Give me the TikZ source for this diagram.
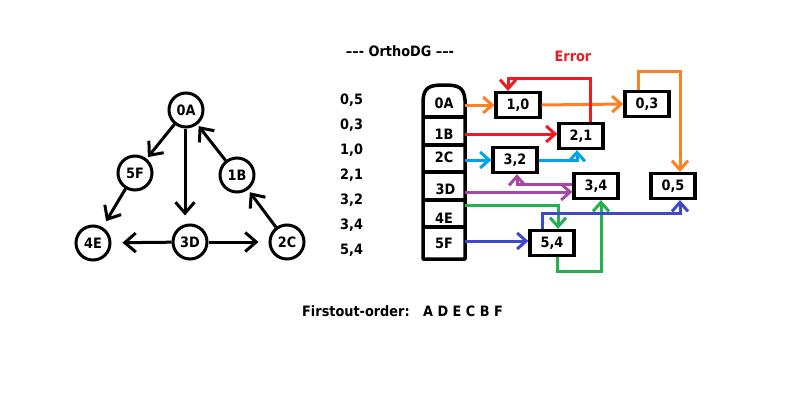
\documentclass[tikz,border=0pt]{standalone}
\usepackage{fontspec}
\setmainfont{DejaVu Sans}[FakeStretch=0.9]
\usetikzlibrary{arrows.meta}
\definecolor{corange}{HTML}{FF7F27}
\definecolor{cred}{HTML}{ED1C24}
\definecolor{clblue}{HTML}{00A2E8}
\definecolor{cpurple}{HTML}{A349A4}
\definecolor{cgreen}{HTML}{22B14C}
\definecolor{cdblue}{HTML}{3F48CC}
\begin{document}
\begin{tikzpicture}[x=1pt,y=-1pt,
  every node/.style={font=\fontsize{14.3}{16}\selectfont\bfseries},
  gnode/.style={circle,draw,line width=3pt,minimum size=34pt,inner sep=0pt},
  garrow/.style={line width=3pt,-{Straight Barb[length=11pt,width=19pt,line width=3pt]}},
  rowlbl/.style={minimum width=42pt,inner sep=0pt},
  pbox/.style={draw,line width=3.2pt,minimum width=44pt,minimum height=25pt,inner sep=0pt},
  carrow/.style={line width=3pt,-{Straight Barb[length=9pt,width=16pt,line width=3pt]}},
  listlbl/.style={anchor=west,inner sep=0pt}
]
\useasboundingbox (0,0) rectangle (798,410);
% left graph
\node[gnode] (g0A) at (186,110) {0A};
\node[gnode] (g5F) at (135,173) {5F};
\node[gnode] (g1B) at (237,175) {1B};
\node[gnode] (g4E) at (93,243) {4E};
\node[gnode] (g3D) at (190,242) {3D};
\node[gnode] (g2C) at (287,242) {2C};
\draw[garrow,shorten >=2pt] (g0A) -- (g5F);
\draw[garrow,shorten >=8pt] ([xshift=-1pt]g0A.south) -- ([xshift=-1pt]g0A.south |- g3D.north);
\draw[garrow,shorten >=2pt] (g1B) -- (g0A);
\draw[garrow,shorten >=3pt] (g2C) -- (g1B);
\draw[garrow,shorten >=7pt] (g5F) -- (g4E);
\draw[garrow,shorten >=11pt] (g3D) -- (g4E);
\draw[garrow,shorten >=10pt] (g3D) -- (g2C);
% title and list
\node (title) at (400,51) {--{}--{}- OrthoDG --{}--{}-};
\node[listlbl] (l1) at (340,100) {0,5};
\node[listlbl] (l2) at (340,125) {0,3};
\node[listlbl] (l3) at (340,150) {1,0};
\node[listlbl] (l4) at (340,175) {2,1};
\node[listlbl] (l5) at (340,200) {3,2};
\node[listlbl] (l6) at (340,225) {3,4};
\node[listlbl] (l7) at (340,250) {5,4};
% column
\draw[line width=3.5pt,line join=round] (423,259) -- (423,100) .. controls (424,87) and (430,85) .. (444,85) .. controls (458,85) and (464,87) .. (465,100) -- (465,259) -- cycle;
\foreach \yy in {117,145,172,200,227} \draw[line width=3.5pt] (423,\yy) -- (465,\yy);
\node[rowlbl] (r0A) at (444,103) {0A};
\node[rowlbl] (r1B) at (444,134) {1B};
\node[rowlbl] (r2C) at (444,157) {2C};
\node[rowlbl] (r3D) at (444,189) {\hspace{3pt}3D};
\node[rowlbl] (r4E) at (444,218) {4E};
\node[rowlbl] (r5F) at (444,243) {5F};
\coordinate (p3D) at (465,192);
\coordinate (p4E) at (465,205);
\coordinate (p5F) at (465,241);
% boxes
\node[pbox] (b10) at (518,105) {1,0};
\node[pbox] (b03) at (647,104) {0,3};
\node[pbox] (b21) at (581,136) {2,1};
\node[pbox] (b32) at (515,160) {3,2};
\node[pbox] (b34) at (596,186) {3,4};
\node[pbox] (b05) at (673,186) {0,5};
\node[pbox] (b54) at (552,243) {5,4};
\node[text=cred] (err) at (573,56) {Error};
% orange
\draw[carrow,corange] (r0A.east |- b10.west) -- (b10.west);
\draw[carrow,corange] (b10.east) -- (b03.west);
\draw[carrow,corange] ([xshift=-9pt]b03.north) -- ++(0,-18) -| ([xshift=7pt]b05.north);
% red
\draw[carrow,cred] (r1B.east) -- (r1B.east -| b21.west);
\draw[carrow,cred] ([xshift=9pt]b21.north) -- ++(0,-43) -| ([xshift=-10pt]b10.north);
% light blue
\draw[carrow,clblue] (r2C.east |- b32.west) -- (b32.west);
\draw[carrow,clblue] (b32.east) -| ([xshift=-4pt]b21.south);
% purple
\draw[carrow,cpurple] (p3D) -- (p3D -| b34.west);
\draw[carrow,cpurple] ([yshift=2pt]b34.west) -| ([xshift=2pt]b32.south);
% green
\draw[carrow,cgreen] (p4E) -| ([xshift=6pt]b54.north);
\draw[carrow,cgreen] ([xshift=5pt]b54.south) -- ++(0,14) -| ([xshift=5pt]b34.south);
% dark blue
\draw[carrow,cdblue] (p5F) -- (p5F -| b54.west);
\draw[carrow,cdblue] ([xshift=-10pt]b54.north) -- ++(0,-15) -| ([xshift=7pt]b05.south);
% order
\node[anchor=west,inner sep=0pt] (order) at (302,311) {Firstout-order:\ \ \ A D E C B F};
\end{tikzpicture}
\end{document}
